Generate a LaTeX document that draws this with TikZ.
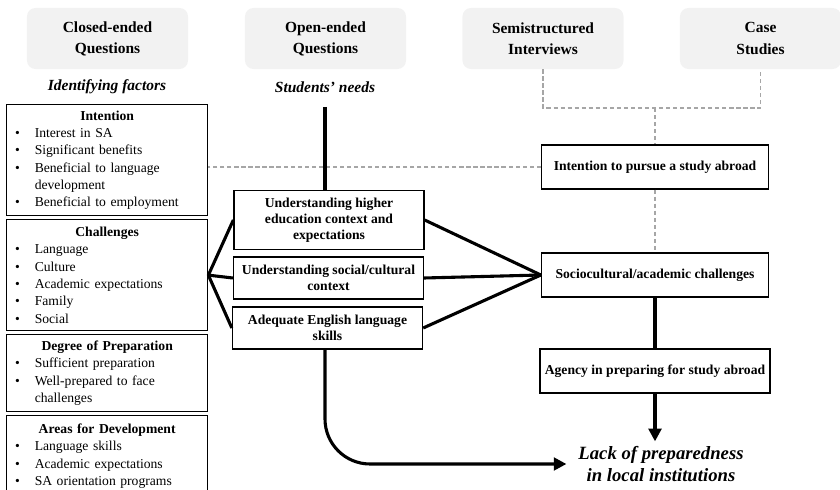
\documentclass[tikz,border=0pt]{standalone}
\usepackage{fontspec}
\setmainfont{Liberation Serif}
\usetikzlibrary{arrows.meta, positioning}

\definecolor{methodgray}{HTML}{F2F2F2}
\definecolor{linkgray}{HTML}{A6A6A6}
\newcommand{\bul}[1]{\hspace*{2pt}\makebox[14pt][l]{\textbullet}#1}
\newcommand{\cont}[1]{\hspace*{16pt}#1}
\newcommand{\head}[1]{\makebox[135pt][c]{\textbf{#1}}}

\begin{document}
\begin{tikzpicture}[
  x=0.025cm, y=-0.025cm,
  method/.style={rounded corners=6pt, fill=methodgray, minimum width=4.025cm, minimum height=1.525cm, align=center, font=\fontsize{11}{15}\selectfont\bfseries},
  focus/.style={font=\fontsize{11}{13}\selectfont\bfseries\itshape},
  factor/.style={draw, line width=0.9pt, anchor=north west, text width=135pt, inner xsep=4pt, align=left, font=\fontsize{9.7}{12.3}\selectfont},
  need/.style={draw, line width=0.9pt, minimum width=4.75cm, align=center, font=\fontsize{9.7}{11.4}\selectfont\bfseries},
  theme/.style={draw, line width=0.9pt, minimum width=5.675cm, minimum height=1.1cm, align=center, font=\fontsize{9.7}{11.4}\selectfont\bfseries},
  link/.style={line width=2.2pt},
  arrow/.style={line width=2.2pt, -{Triangle[length=9pt, width=9pt]}},
  dashlink/.style={linkgray, dashed, line width=1pt, dash pattern=on 3pt off 2pt}
  ]
  \useasboundingbox (0,0) rectangle (840,490);
  \clip (0,0) rectangle (840,490);

  % Data sources along the top
  \node[method] (closed) at (107.5,38.5) {Closed-ended\\Questions};
  \node[method] (open) at (325.5,38.5) {Open-ended\\Questions};
  \node[method] (semi) at (543,38.5) {Semistructured\\Interviews};
  \node[method] (case) at (760.5,38.5) {Case\\Studies};

  \node[focus] (factors) at (107,87) {Identifying factors};
  \node[focus] (needs) at (325,87) {Students' needs};

  % Factor boxes on the left
  \node[factor, minimum height=2.775cm] (lintent) at (6,104) {\head{Intention}\\
    \bul{Interest in SA}\\
    \bul{Significant benefits}\\
    \bul{Beneficial to language}\\
    \cont{development}\\
    \bul{Beneficial to employment}};
  \node[factor, minimum height=2.775cm] (lchal) at (6,219) {\head{Challenges}\\
    \bul{Language}\\
    \bul{Culture}\\
    \bul{Academic expectations}\\
    \bul{Family}\\
    \bul{Social}};
  \node[factor, minimum height=1.925cm] (lprep) at (6,334) {\head{Degree of Preparation}\\
    \bul{Sufficient preparation}\\
    \bul{Well-prepared to face}\\
    \cont{challenges}};
  \node[factor, minimum height=2.025cm] (ldev) at (6,415) {\head{Areas for Development}\\
    \bul{Language skills}\\
    \bul{Academic expectations}\\
    \bul{SA orientation programs}};

  % Students' needs in the middle
  \node[need, minimum height=1.475cm] (uhe) at (329,220) {Understanding higher\\education context and\\expectations};
  \node[need, minimum height=1.05cm] (usc) at (328.5,278) {Understanding social/cultural\\context};
  \node[need, minimum height=1.05cm] (ael) at (327.5,328) {Adequate English language\\skills};

  % Themes on the right
  \node[theme] (intent) at (655,167) {Intention to pursue a study abroad};
  \node[theme] (socio) at (655,275) {Sociocultural/academic challenges};
  \node[theme] (agency) at (655,371) {Agency in preparing for study abroad};
  \node[font=\fontsize{13.3}{15.6}\selectfont\bfseries\itshape, align=center] (lack) at (661,464) {Lack of preparedness\\in local institutions};

  \coordinate (needtop) at (325,107);
  \coordinate (join) at (655,108);

  % Dashed links from the interviews
  \draw[dashlink] (semi.south) |- (join) -| (case.south);
  \draw[dashlink] (join) -- (intent.north);
  \draw[dashlink] (intent.south) -- (socio.north);
  \draw[dashlink] (intent.west) -- (intent.west -| lintent.east);

  % Solid links
  \draw[link] (needtop) -- (needtop |- uhe.north);
  \draw[link] (lchal.east) -- (uhe.west);
  \draw[link] (lchal.east) -- (usc.west);
  \draw[link] (lchal.east) -- (ael.west);
  \draw[link] (uhe.east) -- (socio.west);
  \draw[link] (usc.east) -- (socio.west);
  \draw[link] (ael.east) -- (socio.west);
  \draw[link] (socio.south) -- (agency.north);
  \draw[arrow] (agency.south) -- (agency.south |- lack.north);
  \draw[arrow, rounded corners=32pt, shorten >=5pt] (needtop |- ael.south) |- (lack.west);

\end{tikzpicture}
\end{document}
